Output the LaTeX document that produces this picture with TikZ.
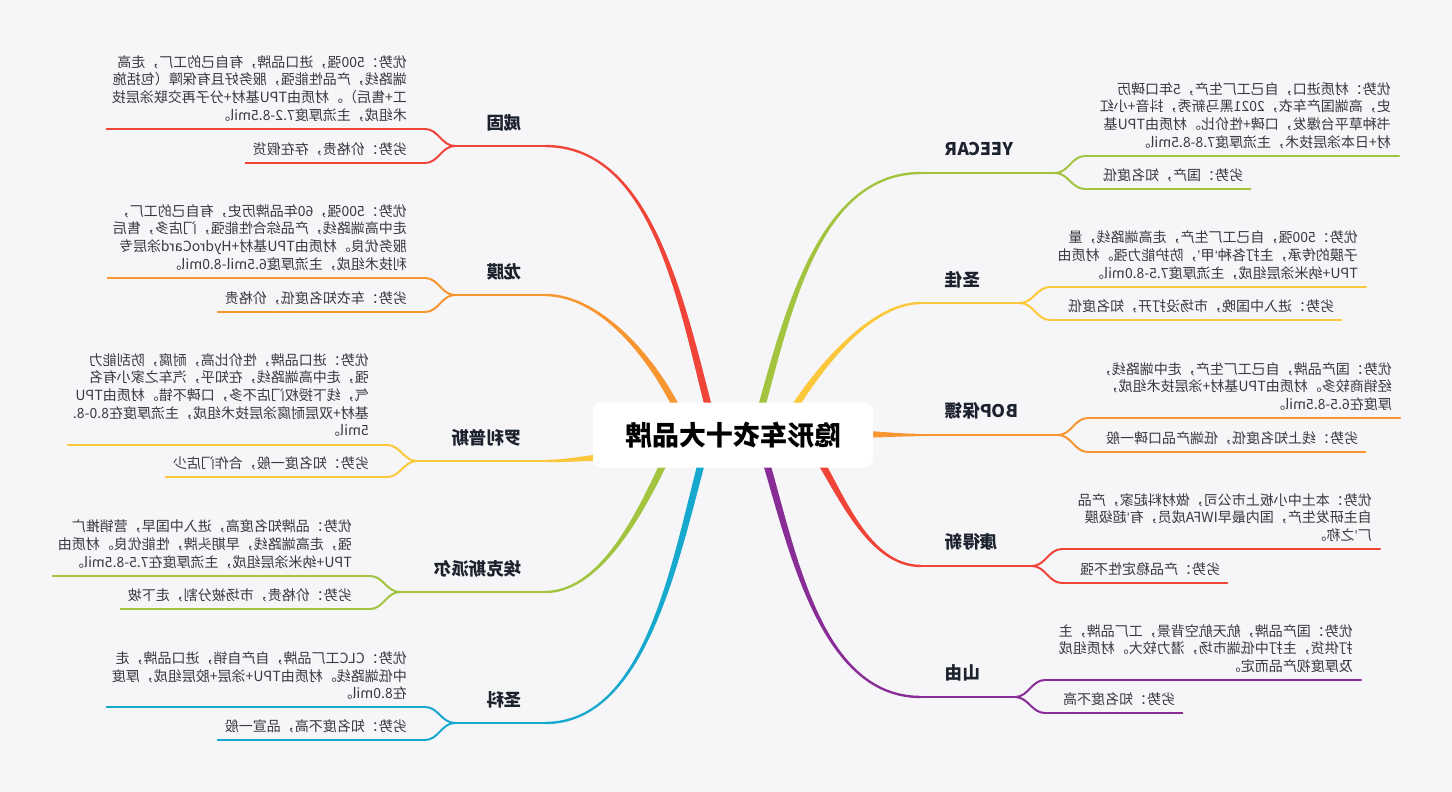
\documentclass[tikz,border=0pt]{standalone}
\usepackage{fontspec}
\setmainfont{Noto Sans CJK SC}
\newfontfamily\quotefont{Liberation Sans}
\usetikzlibrary{calc,positioning}
\definecolor{PageGray}{RGB}{246,246,249}
\definecolor{InkDark}{RGB}{28,34,46}
\definecolor{InkText}{RGB}{58,58,62}
\definecolor{BranchRed}{RGB}{240,68,56}
\definecolor{BranchOrange}{RGB}{247,150,48}
\definecolor{BranchYellow}{RGB}{251,200,60}
\definecolor{BranchLime}{RGB}{163,196,62}
\definecolor{BranchCyan}{RGB}{22,168,205}
\definecolor{BranchPurple}{RGB}{136,44,150}
\tikzset{
  mirror/.style={xscale=-1},
  hubbox/.style={mirror,fill=white,rounded corners=8pt,minimum width=280pt,
    minimum height=65pt,inner sep=0pt,font=\fontsize{27}{30}\selectfont\bfseries,text=black},
  brandlabel/.style={mirror,inner sep=0pt,font=\fontsize{17.5}{20}\selectfont\bfseries,text=InkDark},
  notetext/.style={mirror,inner sep=0pt,align=left,font=\fontsize{14}{17.7}\selectfont,text=InkText},
  subline/.style={line width=2pt,line cap=round},
  stemline/.style={line width=2.4pt},
}
\newcommand\trunk[5]{%
  \fill[#1] ($(#2)!3.6pt!90:(#3)$) .. controls ($(#3)!3.6pt!-90:(#2)$) and ($(#4)!1.2pt!90:(#5)$) .. ($(#5)!1.2pt!-90:(#4)$)
    -- ($(#5)!1.2pt!90:(#4)$) .. controls ($(#4)!1.2pt!-90:(#5)$) and ($(#3)!3.6pt!90:(#2)$) .. ($(#2)!3.6pt!-90:(#3)$) -- cycle;}
\newcommand\openq{{\quotefont ‘}}
\newcommand\closeq{{\quotefont ’}}

\begin{document}
\begin{tikzpicture}[x=1pt,y=-1pt]
  \useasboundingbox (0,0) rectangle (1452,792);
  \fill[PageGray] (0,0) rectangle (1452,792);

  % 威固
  \coordinate (wgS) at (713.4,426.2);
  \coordinate (wgP) at (682.7,310);
  \coordinate (wgQ) at (655,146);
  \coordinate (wgE) at (545,146);
  \coordinate (wgF) at (455,146);
  \coordinate (wgU) at (425,129);
  \coordinate (wgL) at (425,163);
  \trunk{BranchRed}{wgS}{wgP}{wgQ}{wgE}
  \draw[stemline,BranchRed] (wgE) -- (wgF);
  \draw[subline,BranchRed] (wgF) to[out=180,in=0] (wgU);
  \draw[subline,BranchRed] (wgF) to[out=180,in=0] (wgL);
  \node[brandlabel,anchor=west] (wg) at (522,123) {威固};
  \node[notetext,anchor=south west] (wgPro) at (407,122) {优势：500强，进口品牌，有自己的工厂，走高\\端路线，产品性能强，服务好且有保障（包括施\\工+售后）。材质由TPU基材+分子再交联涂层技\\术组成，主流厚度7.2-8.5mil。};
  \node[notetext,anchor=south west] (wgCon) at (407,156) {劣势：价格贵，存在假货};
  \draw[subline,BranchRed] (wgU) -- (wgPro.south east |- wgU) -- ++(-5,0);
  \draw[subline,BranchRed] (wgL) -- (wgCon.south east |- wgL) -- ++(-7,0);

  % 龙膜
  \coordinate (lmS) at (684.4,425.2);
  \coordinate (lmP) at (661.8,369.6);
  \coordinate (lmQ) at (605,295);
  \coordinate (lmE) at (545,295);
  \coordinate (lmF) at (455,295);
  \coordinate (lmU) at (425,278);
  \coordinate (lmL) at (425,312);
  \trunk{BranchOrange}{lmS}{lmP}{lmQ}{lmE}
  \draw[stemline,BranchOrange] (lmE) -- (lmF);
  \draw[subline,BranchOrange] (lmF) to[out=180,in=0] (lmU);
  \draw[subline,BranchOrange] (lmF) to[out=180,in=0] (lmL);
  \node[brandlabel,anchor=west] (lm) at (522,272) {龙膜};
  \node[notetext,anchor=south west] (lmPro) at (407,271) {优势：500强，60年品牌历史，有自己的工厂，\\走中高端路线，产品综合性能强，门店多，售后\\服务优良。材质由TPU基材+HydroCard涂层专\\利技术组成，主流厚度6.5mil-8.0mil。};
  \node[notetext,anchor=south west] (lmCon) at (407,305) {劣势：车衣知名度低，价格贵};
  \draw[subline,BranchOrange] (lmU) -- (lmPro.south east |- lmU) -- ++(-5,0);
  \draw[subline,BranchOrange] (lmL) -- (lmCon.south east |- lmL) -- ++(-7,0);

  % 罗利普斯
  \coordinate (lpS) at (620,456);
  \coordinate (lpP) at (595,457);
  \coordinate (lpQ) at (570,461);
  \coordinate (lpE) at (545,461);
  \coordinate (lpF) at (417,461);
  \coordinate (lpU) at (387,445);
  \coordinate (lpL) at (387,477);
  \trunk{BranchYellow}{lpS}{lpP}{lpQ}{lpE}
  \draw[stemline,BranchYellow] (lpE) -- (lpF);
  \draw[subline,BranchYellow] (lpF) to[out=180,in=0] (lpU);
  \draw[subline,BranchYellow] (lpF) to[out=180,in=0] (lpL);
  \node[brandlabel,anchor=west] (lp) at (522,438) {罗利普斯};
  \node[notetext,anchor=south west] (lpPro) at (369,437) {优势：进口品牌，性价比高，耐腐，防刮能力\\强，走中高端路线，在知乎，汽车之家小有名\\气，线下授权门店不多，口碑不错。材质由TPU\\基材+双层耐腐涂层技术组成，主流厚度在8.0-8.\\5mil。};
  \node[notetext,anchor=south west] (lpCon) at (369,470) {劣势：知名度一般，合作门店少};
  \draw[subline,BranchYellow] (lpU) -- (lpPro.south east |- lpU) -- ++(-5,0);
  \draw[subline,BranchYellow] (lpL) -- (lpCon.south east |- lpL) -- ++(-7,0);

  % 埃克斯派尔
  \coordinate (akpS) at (672.5,444.3);
  \coordinate (akpP) at (647.3,498.9);
  \coordinate (akpQ) at (605,592);
  \coordinate (akpE) at (545,592);
  \coordinate (akpF) at (400,592);
  \coordinate (akpU) at (370,576);
  \coordinate (akpL) at (370,609);
  \trunk{BranchLime}{akpS}{akpP}{akpQ}{akpE}
  \draw[stemline,BranchLime] (akpE) -- (akpF);
  \draw[subline,BranchLime] (akpF) to[out=180,in=0] (akpU);
  \draw[subline,BranchLime] (akpF) to[out=180,in=0] (akpL);
  \node[brandlabel,anchor=west] (akp) at (522,569) {埃克斯派尔};
  \node[notetext,anchor=south west] (akpPro) at (352,569) {优势：品牌知名度高，进入中国早，营销推广\\强，走高端路线，早期头牌，性能优良。材质由\\TPU+纳米涂层组成，主流厚度在7.5-8.5mil。};
  \node[notetext,anchor=south west] (akpCon) at (352,602) {劣势：价格贵，市场被分割，走下坡};
  \draw[subline,BranchLime] (akpU) -- (akpPro.south east |- akpU) -- ++(-5,0);
  \draw[subline,BranchLime] (akpL) -- (akpCon.south east |- akpL) -- ++(-7,0);

  % 圣科
  \coordinate (skS) at (706.8,443);
  \coordinate (skP) at (677,548.6);
  \coordinate (skQ) at (650,723);
  \coordinate (skE) at (545,723);
  \coordinate (skF) at (455,723);
  \coordinate (skU) at (425,707);
  \coordinate (skL) at (425,740);
  \trunk{BranchCyan}{skS}{skP}{skQ}{skE}
  \draw[stemline,BranchCyan] (skE) -- (skF);
  \draw[subline,BranchCyan] (skF) to[out=180,in=0] (skU);
  \draw[subline,BranchCyan] (skF) to[out=180,in=0] (skL);
  \node[brandlabel,anchor=west] (sk) at (522,700) {圣科};
  \node[notetext,anchor=south west] (skPro) at (407,700) {优势：CLC工厂品牌，自产自销，进口品牌，走\\中低端路线。材质由TPU+涂层+胶层组成，厚度\\在8.0mil。};
  \node[notetext,anchor=south west] (skCon) at (407,733) {劣势：知名度不高，品宣一般};
  \draw[subline,BranchCyan] (skU) -- (skPro.south east |- skU) -- ++(-5,0);
  \draw[subline,BranchCyan] (skL) -- (skCon.south east |- skL) -- ++(-7,0);

  % YEECAR
  \coordinate (ycS) at (756.3,426);
  \coordinate (ycP) at (786,320.4);
  \coordinate (ycQ) at (816,173);
  \coordinate (ycE) at (921,173);
  \coordinate (ycF) at (1055,173);
  \coordinate (ycU) at (1085,156);
  \coordinate (ycL) at (1085,189);
  \trunk{BranchLime}{ycS}{ycP}{ycQ}{ycE}
  \draw[stemline,BranchLime] (ycE) -- (ycF);
  \draw[subline,BranchLime] (ycF) to[out=0,in=180] (ycU);
  \draw[subline,BranchLime] (ycF) to[out=0,in=180] (ycL);
  \node[brandlabel,anchor=east] (yc) at (945,149) {YEECAR};
  \node[notetext,anchor=south west] (ycPro) at (1391,149) {优势：材质进口，自己工厂生产，5年口碑历\\史，高端国产车衣，2021黑马新秀，抖音+小红\\书种草平台爆发，口碑+性价比。材质由TPU基\\材+日本涂层技术，主流厚度7.8-8.5mil。};
  \node[notetext,anchor=south east] (ycCon) at (1103,182) {劣势：国产，知名度低};
  \draw[subline,BranchLime] (ycU) -- (ycPro.south west |- ycU) -- ++(8,0);
  \draw[subline,BranchLime] (ycL) -- (ycCon.south west |- ycL) -- ++(7,0);

  % 圣佳
  \coordinate (sjS) at (784.5,423.8);
  \coordinate (sjP) at (809.5,380.3);
  \coordinate (sjQ) at (866,303);
  \coordinate (sjE) at (921,303);
  \coordinate (sjF) at (1020,303);
  \coordinate (sjU) at (1050,287);
  \coordinate (sjL) at (1050,320);
  \trunk{BranchYellow}{sjS}{sjP}{sjQ}{sjE}
  \draw[stemline,BranchYellow] (sjE) -- (sjF);
  \draw[subline,BranchYellow] (sjF) to[out=0,in=180] (sjU);
  \draw[subline,BranchYellow] (sjF) to[out=0,in=180] (sjL);
  \node[brandlabel,anchor=east] (sj) at (945,280) {圣佳};
  \node[notetext,anchor=south west] (sjPro) at (1358,280) {优势：500强，自己工厂生产，走高端路线，量\\子膜的传承，主打各种\openq 甲\closeq ，防护能力强。材质由\\TPU+纳米涂层组成，主流厚度7.5-8.0mil。};
  \node[notetext,anchor=south east] (sjCon) at (1068,313) {劣势：进入中国晚，市场没打开，知名度低};
  \draw[subline,BranchYellow] (sjU) -- (sjPro.south west |- sjU) -- ++(8,0);
  \draw[subline,BranchYellow] (sjL) -- (sjCon.south west |- sjL) -- ++(7,0);

  % BOP保镖
  \coordinate (bopS) at (850,434);
  \coordinate (bopP) at (880,434.5);
  \coordinate (bopQ) at (895,435);
  \coordinate (bopE) at (921,435);
  \coordinate (bopF) at (1058,435);
  \coordinate (bopU) at (1088,418);
  \coordinate (bopL) at (1088,452);
  \trunk{BranchOrange}{bopS}{bopP}{bopQ}{bopE}
  \draw[stemline,BranchOrange] (bopE) -- (bopF);
  \draw[subline,BranchOrange] (bopF) to[out=0,in=180] (bopU);
  \draw[subline,BranchOrange] (bopF) to[out=0,in=180] (bopL);
  \node[brandlabel,anchor=east] (bop) at (945,411) {BOP保镖};
  \node[notetext,anchor=south west] (bopPro) at (1392,411) {优势：国产品牌，自己工厂生产，走中端路线，\\经销商较多。材质由TPU基材+涂层技术组成，\\厚度在6.5-8.5mil。};
  \node[notetext,anchor=south east] (bopCon) at (1106,445) {劣势：线上知名度低，低端产品口碑一般};
  \draw[subline,BranchOrange] (bopU) -- (bopPro.south west |- bopU) -- ++(8,0);
  \draw[subline,BranchOrange] (bopL) -- (bopCon.south west |- bopL) -- ++(7,0);

  % 康得新
  \coordinate (kdxS) at (811,446);
  \coordinate (kdxP) at (838.5,487.5);
  \coordinate (kdxQ) at (866,566);
  \coordinate (kdxE) at (921,566);
  \coordinate (kdxF) at (1032,566);
  \coordinate (kdxU) at (1062,549);
  \coordinate (kdxL) at (1062,583);
  \trunk{BranchRed}{kdxS}{kdxP}{kdxQ}{kdxE}
  \draw[stemline,BranchRed] (kdxE) -- (kdxF);
  \draw[subline,BranchRed] (kdxF) to[out=0,in=180] (kdxU);
  \draw[subline,BranchRed] (kdxF) to[out=0,in=180] (kdxL);
  \node[brandlabel,anchor=east] (kdx) at (945,542) {康得新};
  \node[notetext,anchor=south west] (kdxPro) at (1372,542) {优势：本土中小板上市公司，做材料起家，产品\\自主研发生产，国内最早IWFA成员，有\openq 超级膜\\厂\closeq 之称。};
  \node[notetext,anchor=south east] (kdxCon) at (1080,576) {劣势：产品稳定性不强};
  \draw[subline,BranchRed] (kdxU) -- (kdxPro.south west |- kdxU) -- ++(8,0);
  \draw[subline,BranchRed] (kdxL) -- (kdxCon.south west |- kdxL) -- ++(7,0);

  % 山由
  \coordinate (syS) at (760.5,443.3);
  \coordinate (syP) at (790.5,538.3);
  \coordinate (syQ) at (816,697);
  \coordinate (syE) at (921,697);
  \coordinate (syF) at (1015,697);
  \coordinate (syU) at (1045,680);
  \coordinate (syL) at (1045,713);
  \trunk{BranchPurple}{syS}{syP}{syQ}{syE}
  \draw[stemline,BranchPurple] (syE) -- (syF);
  \draw[subline,BranchPurple] (syF) to[out=0,in=180] (syU);
  \draw[subline,BranchPurple] (syF) to[out=0,in=180] (syL);
  \node[brandlabel,anchor=east] (sy) at (945,673) {山由};
  \node[notetext,anchor=south west] (syPro) at (1353,673) {优势：国产品牌，航天航空背景，工厂品牌，主\\打供货，主打中低端市场，潜力较大。材质组成\\及厚度视产品而定。};
  \node[notetext,anchor=south east] (syCon) at (1063,706) {劣势：知名度不高};
  \draw[subline,BranchPurple] (syU) -- (syPro.south west |- syU) -- ++(8,0);
  \draw[subline,BranchPurple] (syL) -- (syCon.south west |- syL) -- ++(7,0);

  \node[hubbox] (hub) at (733,435) {隐形车衣十大品牌};
\end{tikzpicture}
\end{document}
